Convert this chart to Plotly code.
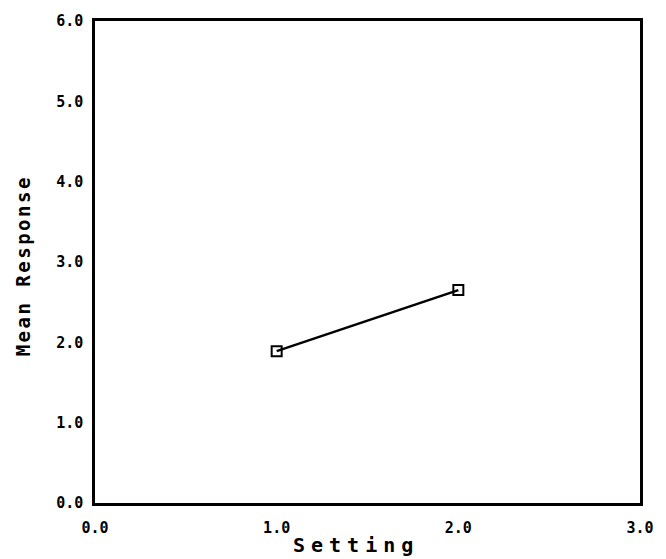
import plotly.graph_objects as go

# Mean response observed at each setting
settings = [1.0, 2.0]
mean_response = [1.89, 2.65]

x_ticks = [0.0, 1.0, 2.0, 3.0]
x_tick_text = ["0.0", "1.0", "2.0", "3.0"]
y_ticks = [0, 1, 2, 3, 4, 5, 6]
y_tick_text = ["0.0", "1.0", "2.0", "3.0", "4.0", "5.0", "6.0"]

FONT = "DejaVu Sans Mono"

fig = go.Figure()
fig.add_trace(go.Scatter(
    x=settings,
    y=mean_response,
    mode="lines+markers",
    line=dict(color="black", width=2.5),
    marker=dict(symbol="square-open", size=10, color="black", line=dict(width=2, color="black")),
    showlegend=False,
))

axis_common = dict(
    showgrid=False,
    zeroline=False,
    showline=True,
    mirror=True,
    linecolor="black",
    linewidth=2.5,
    ticks="",
    tickfont=dict(family=FONT, size=15, color="black", weight="bold"),
)

fig.update_xaxes(range=[0, 3], tickvals=x_ticks, ticktext=x_tick_text,
                 ticklabelstandoff=9, **axis_common)
fig.update_yaxes(range=[0, 6], tickvals=y_ticks, ticktext=y_tick_text,
                 ticklabelstandoff=6, **axis_common)

fig.add_annotation(
    text='<span style="letter-spacing:6px">Setting</span>',
    xref="paper", yref="paper", x=0.478, y=0,
    xanchor="center", yanchor="middle", yshift=-42,
    showarrow=False,
    font=dict(family=FONT, size=20, color="black", weight="bold"),
)
fig.add_annotation(
    text='<span style="letter-spacing:2.5px">Mean Response</span>',
    xref="paper", yref="paper", x=0, y=0.491,
    xanchor="center", yanchor="middle", xshift=-72,
    textangle=-90, showarrow=False,
    font=dict(family=FONT, size=19, color="black", weight="bold"),
)

fig.update_layout(
    width=666, height=559, autosize=False,
    margin=dict(l=95, r=19, t=14, b=56),
    paper_bgcolor="white", plot_bgcolor="white",
)

fig.write_html("out.html")
